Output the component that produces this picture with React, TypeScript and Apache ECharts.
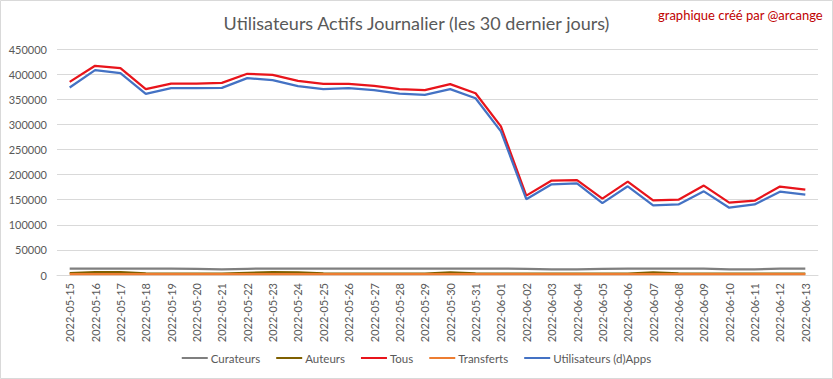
import React, { useEffect, useRef } from "react";
import * as echarts from "echarts";

const categories = [
  "2022-05-15", "2022-05-16", "2022-05-17", "2022-05-18", "2022-05-19", "2022-05-20",
  "2022-05-21", "2022-05-22", "2022-05-23", "2022-05-24", "2022-05-25", "2022-05-26",
  "2022-05-27", "2022-05-28", "2022-05-29", "2022-05-30", "2022-05-31", "2022-06-01",
  "2022-06-02", "2022-06-03", "2022-06-04", "2022-06-05", "2022-06-06", "2022-06-07",
  "2022-06-08", "2022-06-09", "2022-06-10", "2022-06-11", "2022-06-12", "2022-06-13",
];

const curateurs = [
  12600, 12700, 12700, 12600, 12600, 12300, 11000, 12400, 12600, 12600, 12600, 12600,
  12600, 12600, 12600, 12700, 12600, 12600, 12200, 11000, 11000, 12400, 12600, 12600,
  12600, 12600, 11200, 11000, 12600, 12600,
];
const auteurs = [
  3500, 5800, 5600, 3000, 2800, 2800, 2900, 4200, 5600, 5400, 3000, 2900,
  2900, 2900, 2900, 5000, 3000, 2800, 2600, 2600, 2700, 2700, 2800, 5000,
  3200, 2800, 2700, 2700, 2700, 2700,
];
const tous = [
  384600, 416600, 412000, 370000, 381000, 381000, 382600, 400600, 398600, 386600, 380600, 380600,
  376600, 370000, 368000, 380000, 362000, 296000, 158000, 188000, 189000, 152000, 186000, 148600,
  150000, 178000, 144000, 148000, 176000, 170000,
];
const transferts = [
  1800, 1800, 1800, 1800, 1800, 1800, 1800, 1800, 1800, 1800, 1800, 1800,
  1800, 1800, 1800, 1800, 1800, 1800, 1800, 1800, 1800, 1800, 1800, 1800,
  1800, 1800, 1800, 1800, 1800, 1800,
];
const utilisateurs = [
  373300, 408000, 402000, 360600, 372000, 372000, 372600, 392000, 388000, 376000, 370000, 372000,
  368000, 361300, 358600, 370000, 352000, 286000, 151000, 180600, 182600, 143000, 176600, 138600,
  140600, 166600, 134000, 140600, 166000, 160000,
];

const FONT = "Lato, 'Open Sans', sans-serif";

export default function App() {
  const ref = useRef<HTMLDivElement>(null);
  useEffect(() => {
    document.body.style.margin = "0";
    const chart = echarts.init(ref.current!, undefined, { renderer: "svg" });
    const mk = (name: string, data: number[], color: string) => ({
      name,
      type: "line",
      data,
      symbol: "none",
      lineStyle: { color, width: 2.25 },
      itemStyle: { color },
    });
    chart.setOption({
      animation: false,
      backgroundColor: "#ffffff",
      title: {
        text: "Utilisateurs Actifs Journalier (les 30 dernier jours)",
        left: "center",
        top: 9,
        textStyle: { fontFamily: FONT, fontSize: 18, fontWeight: "normal", color: "#595959" },
      },
      graphic: [
        {
          type: "rect",
          shape: { x: 0.5, y: 0.5, width: 832, height: 378 },
          style: { fill: "none", stroke: "#d9d9d9", lineWidth: 1 },
        },
        {
          type: "text",
          right: 10,
          top: 8,
          style: { text: "graphique créé par @arcange", fill: "#c00000", fontSize: 13, fontFamily: FONT },
        },
      ],
      legend: {
        bottom: 10,
        left: "center",
        icon: "rect",
        itemWidth: 26,
        itemHeight: 2,
        itemGap: 16,
        textStyle: { fontFamily: FONT, fontSize: 11.5, color: "#595959", padding: [0, 0, 0, -2] },
        data: ["Curateurs", "Auteurs", "Tous", "Transferts", "Utilisateurs (d)Apps"],
      },
      grid: { left: 57, right: 15, top: 49, bottom: 104, containLabel: false },
      xAxis: {
        type: "category",
        data: categories,
        boundaryGap: true,
        axisLine: { lineStyle: { color: "#d9d9d9" } },
        axisTick: { show: false },
        axisLabel: { rotate: 90, fontFamily: FONT, fontSize: 11, color: "#595959", margin: 8, interval: 0 },
      },
      yAxis: {
        type: "value",
        min: 0,
        max: 450000,
        interval: 50000,
        axisLine: { show: false },
        axisTick: { show: false },
        axisLabel: {
          fontFamily: FONT,
          fontSize: 11,
          color: "#595959",
          margin: 10,
          formatter: (v: number) => String(v),
        },
        splitLine: { lineStyle: { color: "#d9d9d9" } },
      },
      series: [
        mk("Curateurs", curateurs, "#7f7f7f"),
        mk("Auteurs", auteurs, "#7f6000"),
        mk("Tous", tous, "#e8141b"),
        mk("Transferts", transferts, "#ed7d31"),
        mk("Utilisateurs (d)Apps", utilisateurs, "#4472c4"),
      ],
    });
    return () => chart.dispose();
  }, []);
  return <div ref={ref} style={{ width: 833, height: 379 }} />;
}
